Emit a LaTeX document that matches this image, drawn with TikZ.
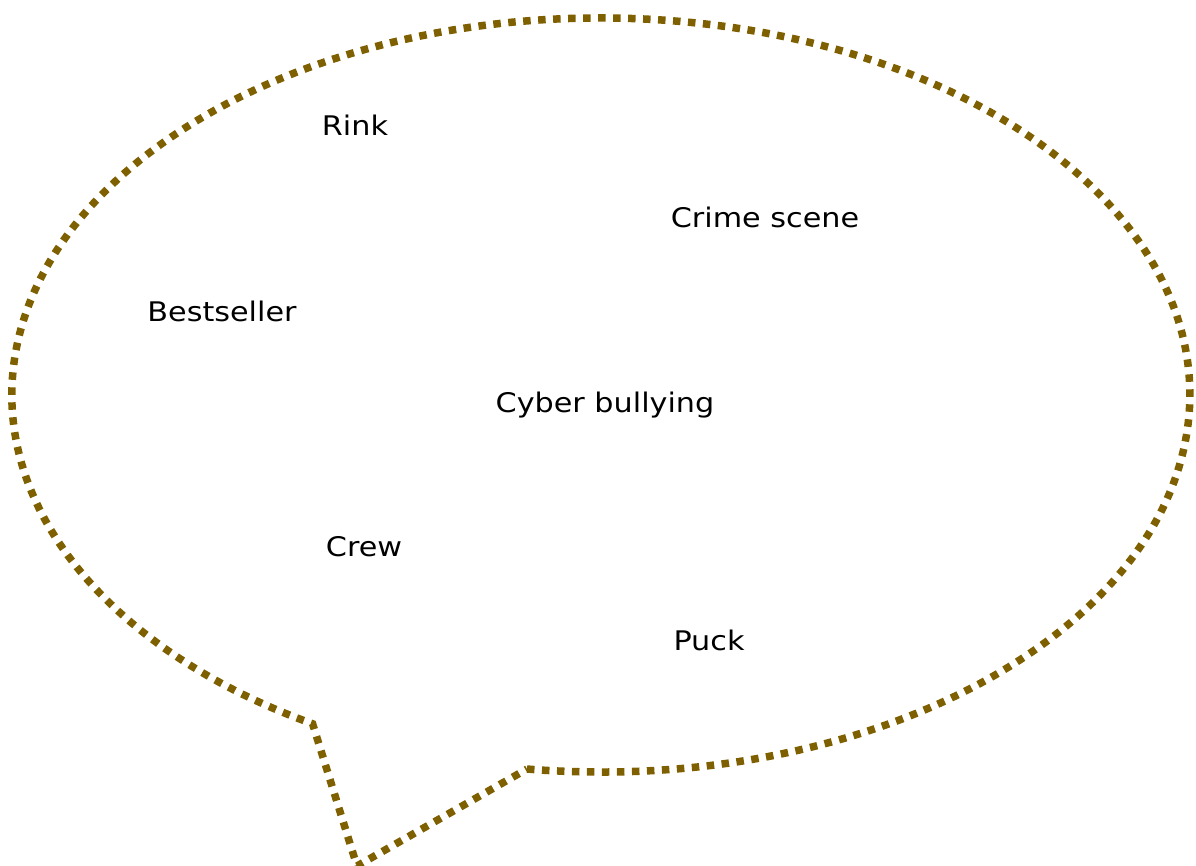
\documentclass[tikz,border=0pt]{standalone}
\usepackage{fontspec}
\newfontfamily\wordfont{DejaVu Sans}[FakeStretch=1.12]
\definecolor{bubble}{HTML}{7F6000}
\begin{document}
\begin{tikzpicture}[x=1pt,y=-1pt,
  bubbleline/.style={draw=bubble,line width=7.5pt,dash pattern=on 7.5pt off 7.5pt,line join=miter},
  word/.style={font=\wordfont\fontsize{27}{32}\selectfont,text=black,inner sep=0pt}]
\useasboundingbox (0,0) rectangle (1196,865);
\coordinate (c) at (601,392);
\coordinate (tipL) at (313,721);
\coordinate (tip) at (357,866);
\coordinate (tipR) at (527,769);
\draw[bubbleline] (tipR) arc[start angle=97.2, end angle=-240.7, x radius=589, y radius=377]
  -- (tip) -- cycle;
\node[word] (rink) at (355,125) {Rink};
\node[word] (crime) at (765,217) {Crime scene};
\node[word] (best) at (222,311) {Bestseller};
\node[word] (cyber) at (605,405) {Cyber bullying};
\node[word] (crew) at (364,547) {Crew};
\node[word] (puck) at (709,640) {Puck};
\end{tikzpicture}
\end{document}
